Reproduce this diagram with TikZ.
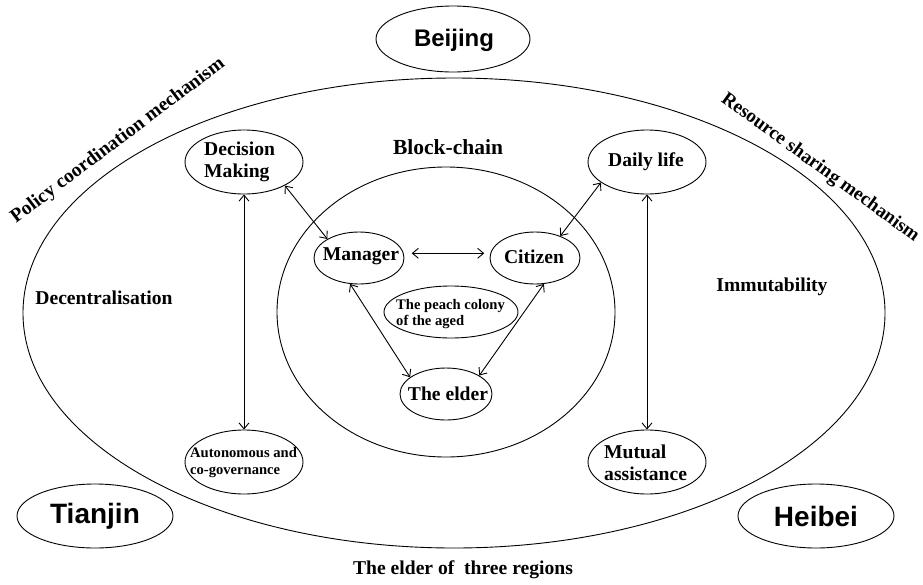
\documentclass[tikz,border=0pt]{standalone}
\usepackage{fontspec}
\setmainfont{Liberation Serif}
\newfontfamily\citysans{Liberation Sans}
\usetikzlibrary{shapes.geometric,arrows.meta}
\begin{document}
\begin{tikzpicture}[x=1pt,y=-1pt,
  ell/.style 2 args={draw, ellipse, line width=0.9pt, inner sep=0pt, minimum width=#1, minimum height=#2},
  lbl/.style={font=\bfseries\fontsize{19.6}{22}\selectfont, inner sep=0pt},
  small/.style={font=\bfseries\fontsize{14.6}{17}\selectfont, inner sep=0pt, align=left},
  city/.style={font=\citysans\bfseries\fontsize{28}{30}\selectfont, inner sep=0pt},
  link/.style={line width=0.9pt, {Straight Barb[length=6pt,width=10pt]}-{Straight Barb[length=6pt,width=10pt]}}]
\useasboundingbox (0,0) rectangle (923,584);
% big shapes
\node[ell={862pt}{470pt}] (outer) at (454,313) {};
\node[ell={338pt}{290pt}] (inner) at (446,312) {};
\node[ell={154pt}{66pt}] (bj) at (453,39) {};
\node[ell={156pt}{64pt}] (tj) at (95,516) {};
\node[ell={156pt}{64pt}] (hb) at (816,516) {};
% small ellipses
\node[ell={118pt}{64pt}] (dm) at (244,162) {};
\node[ell={118pt}{64pt}] (dl) at (647,162) {};
\node[ell={118pt}{64pt}] (au) at (244,462) {};
\node[ell={118pt}{64pt}] (mu) at (647,462) {};
\node[ell={90pt}{52pt}] (mg) at (359,258) {};
\node[ell={90pt}{52pt}] (ct) at (535,258) {};
\node[ell={92pt}{52pt}] (el) at (446,394) {};
\node[ell={134pt}{52pt}] (pc) at (451,312) {};
% city texts
\node[city, font=\citysans\bfseries\fontsize{24}{26}\selectfont] (bjt) at (454,40) {Beijing};
\node[city] (tjt) at (95,516) {Tianjin};
\node[city] (hbt) at (816,516) {Heibei};
% labels
\node[lbl, align=left, anchor=west] (dmt) at (204,162) {Decision\\Making};
\node[lbl] (dlt) at (646,162) {Daily life};
\node[lbl, align=left, anchor=west] (mut) at (604,463) {Mutual\\assistance};
\node[small, anchor=west] (aut) at (190,463) {Autonomous and\\co-governance};
\node[small, anchor=west, font=\bfseries\fontsize{14.6}{16}\selectfont] (pct) at (396,314) {The peach colony\\of the aged};
\node[lbl] (mgt) at (361,256) {Manager};
\node[lbl] (ctt) at (534,257) {Citizen};
\node[lbl] (elt) at (448,394) {The elder};
\node[lbl, font=\bfseries\fontsize{21.5}{24}\selectfont] (bc) at (448,147) {Block-chain};
\node[lbl] (dec) at (104,298) {Decentralisation};
\node[lbl] (imm) at (772,287) {Immutability};
\node[lbl] (bot) at (463,570) {The elder of\ \ three regions};
\node[lbl, rotate=37] (pol) at (118,141) {Policy coordination mechanism};
\node[lbl, font=\bfseries\fontsize{19.2}{22}\selectfont, rotate=-36] (res) at (820,168) {Resource sharing mechanism};
% connectors
\draw[link] (dm.south) -- (au.north);
\draw[link] (dl.south) -- (mu.north);
\draw[link] (dm.-30) -- (mg.149);
\draw[link] (dl.204) -- (ct.41);
\draw[link] ([xshift=8pt]mg.6) -- ([xshift=-6pt]ct.174);
\draw[link] (mg.251) -- (el.155);
\draw[link] (ct.-71) -- (el.29);
\end{tikzpicture}
\end{document}
